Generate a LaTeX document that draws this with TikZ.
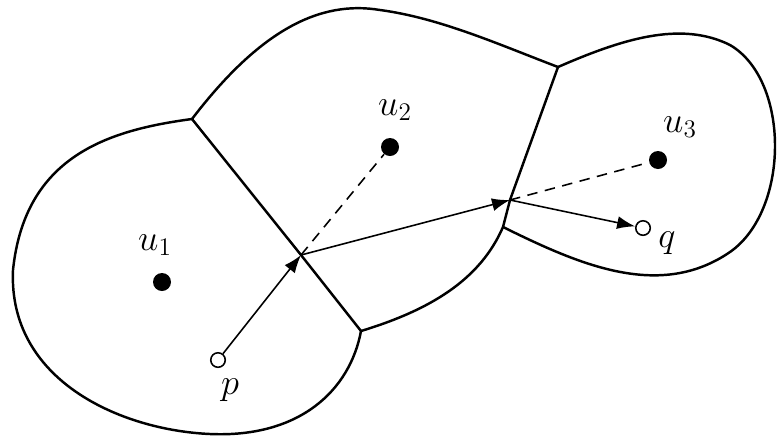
\documentclass[tikz,border=0pt]{standalone}
\usetikzlibrary{arrows.meta}
\tikzset{
  cellline/.style={line width=1.4pt,line join=round},
  site/.style={circle,fill=black,inner sep=0pt,minimum size=0.36cm},
  query/.style={circle,draw=black,fill=white,line width=0.9pt,inner sep=0pt,minimum size=0.29cm},
  walk/.style={-{Latex[length=3.6mm,width=2.6mm]},line width=0.9pt},
  nearest/.style={line width=0.9pt,dash pattern=on 2.1mm off 1.5mm},
  lbl/.style={font=\fontsize{20}{23}\selectfont},
}
\begin{document}
\begin{tikzpicture}[x=0.02cm,y=-0.02cm]
  \useasboundingbox (0,0) rectangle (780,437);
  % cell junctions and crossing points
  \coordinate (A) at (192,119);
  \coordinate (B) at (361,331);
  \coordinate (C) at (558,67);
  \coordinate (D) at (503,227);
  \coordinate (X) at (301,255);
  \coordinate (Y) at (510,200);
  % cell boundaries
  \draw[cellline] (A) .. controls (110,130) and (25,155) .. (13,270)
    .. controls (8,380) and (120,430) .. (210,434)
    .. controls (300,438) and (350,390) .. (B);
  \draw[cellline] (A) .. controls (260,30) and (320,0) .. (380,10)
    .. controls (440,18) and (500,45) .. (C);
  \draw[cellline] (C) .. controls (620,40) and (680,20) .. (730,45)
    .. controls (790,80) and (790,210) .. (730,252)
    .. controls (660,300) and (580,265) .. (D);
  \draw[cellline] (D) .. controls (480,280) and (430,310) .. (B);
  \draw[cellline] (A) -- (X) -- (B);
  \draw[cellline] (C) -- (Y) -- (D);
  % sites and query points
  \node[site] (u1) at (162,282) {};
  \node[site] (u2) at (390,147) {};
  \node[site] (u3) at (658,160) {};
  \node[query] (p) at (218,360) {};
  \node[query] (q) at (643,228) {};
  \node[lbl] (lu1) at (155,245) {$u_1$};
  \node[lbl] (lu2) at (395,110) {$u_2$};
  \node[lbl] (lu3) at (680,127) {$u_3$};
  \node[lbl] (lp) at (230,390) {$p$};
  \node[lbl] (lq) at (667,243) {$q$};
  % nearest sites and the walk
  \draw[nearest] (X) -- (u2);
  \draw[nearest] (Y) -- (u3);
  \draw[walk] (p) -- (X);
  \draw[walk] (X) -- (Y);
  \draw[walk] (Y) -- (q);
\end{tikzpicture}
\end{document}
